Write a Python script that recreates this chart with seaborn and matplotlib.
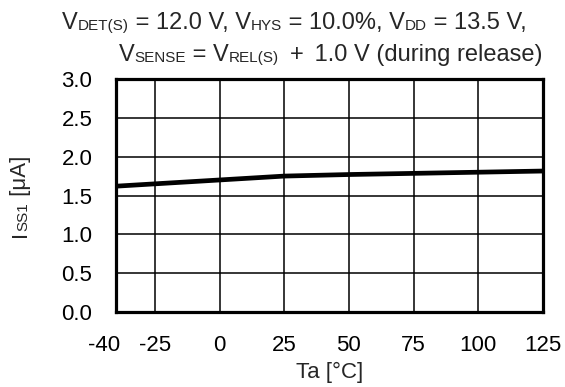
import matplotlib
matplotlib.use("Agg")
import matplotlib.pyplot as plt
from matplotlib.transforms import IdentityTransform, ScaledTranslation
import seaborn as sns

# data
temps = [-40, -25, 0, 25, 50, 75, 100, 125]
iss1 = [1.62, 1.65, 1.70, 1.75, 1.77, 1.785, 1.80, 1.815]

x_ticks = [-40, -25, 0, 25, 50, 75, 100, 125]
y_ticks = [0.0, 0.5, 1.0, 1.5, 2.0, 2.5, 3.0]
y_tick_labels = ["0.0", "0.5", "1.0", "1.5", "2.0", "2.5", "3.0"]

# (text, is_subscript); a number is an extra gap in pixels
title_line1 = [("V", False), ("DET(S)", True), (" = 12.0 V, V", False), ("HYS", True),
               (" = 10.0%, V", False), ("DD", True), (" = 13.5 V,", False)]
title_line2 = [("V", False), ("SENSE", True), (" = V", False), ("REL(S)", True),
               (" ", False), 4.5, ("+", False), 4.5, (" 1.0 V (during release)", False)]
ylabel_parts = [("I", False), ("SS1", True), (" [μA]", False)]

TITLE = 17
BIG = 16
SMALL = 11

sns.set_style("white")
plt.rcParams["font.family"] = ["Liberation Sans", "DejaVu Sans"]

W, H = 565, 387
fig = plt.figure(figsize=(W / 100, H / 100), dpi=100)
ax = fig.add_axes([116 / W, 1 - 312 / H, (543 - 116) / W, (312 - 79) / H])

sns.lineplot(x=temps, y=iss1, color="black", linewidth=3.4, ax=ax, zorder=3)

ax.set_xlim(-40, 125)
ax.set_ylim(0, 3.0)
ax.set_xticks(x_ticks)
ax.set_xticklabels([str(t) for t in x_ticks])
ax.set_yticks(y_ticks)
ax.set_yticklabels(y_tick_labels)
ax.tick_params(axis="both", length=0, labelsize=BIG, colors="black")
ax.tick_params(axis="x", pad=16.5)
ax.tick_params(axis="y", pad=17)
ax.grid(True, color="black", linewidth=1.1)
for sp in ax.spines.values():
    sp.set_visible(True)
    sp.set_color("black")
    sp.set_linewidth(2.3)
    sp.set_zorder(4)

# the -40 label sits a bit left of its tick so it clears -25
first = ax.get_xticklabels()[0]
first.set_transform(first.get_transform() + ScaledTranslation(-0.12, 0, fig.dpi_scale_trans))

ax.set_xlabel("Ta [°C]", fontsize=BIG, labelpad=4)
ax.set_ylabel("")

renderer = fig.canvas.get_renderer()


def advance(s, size, rotation=0):
    # width of a string including spaces at its ends
    t1 = fig.text(0, 0, "|" + s + "|", fontsize=size, rotation=rotation)
    t2 = fig.text(0, 0, "||", fontsize=size, rotation=rotation)
    b1 = t1.get_window_extent(renderer)
    b2 = t2.get_window_extent(renderer)
    t1.remove()
    t2.remove()
    if rotation:
        return b1.height - b2.height
    return b1.width - b2.width


def draw_parts(parts, x, y, big, rotation=0):
    # x, y in pixels from top-left; baseline start
    for part in parts:
        if isinstance(part, (int, float)):
            if rotation:
                y -= part
            else:
                x += part
            continue
        s, sub = part
        size = SMALL if sub else big
        if rotation:
            fig.text(x + (1 if sub else 0), H - y, s, fontsize=size, rotation=90,
                     rotation_mode="anchor", ha="left", va="baseline",
                     transform=IdentityTransform())
            y -= advance(s, size, rotation=90)
        else:
            fig.text(x, H - y - (1 if sub else 0), s, fontsize=size,
                     ha="left", va="baseline", transform=IdentityTransform())
            x += advance(s, size)


draw_parts(title_line1, 62, 29, TITLE)
draw_parts(title_line2, 119, 61, TITLE)
draw_parts(ylabel_parts, 26, 237, BIG, rotation=90)

fig.savefig("out.png", dpi=100)
